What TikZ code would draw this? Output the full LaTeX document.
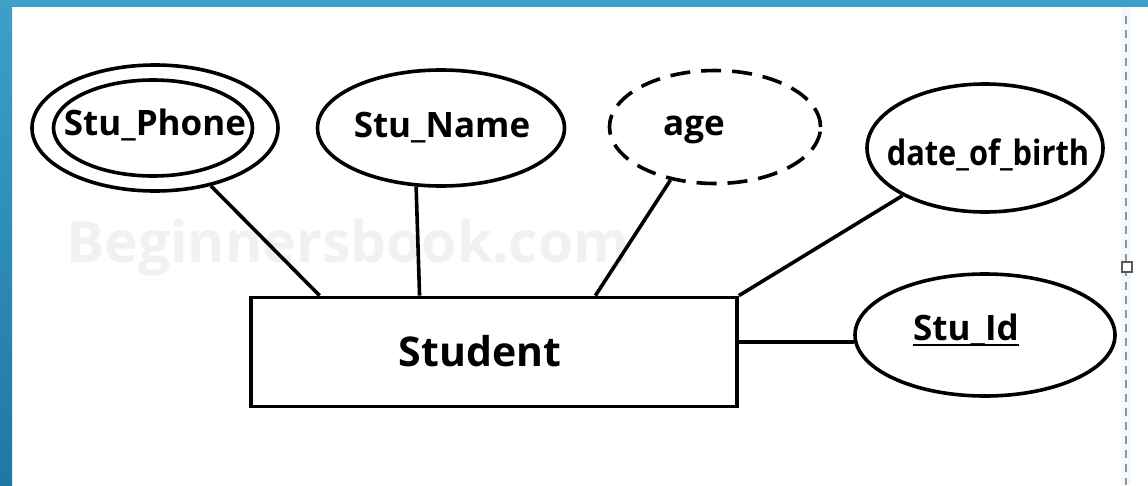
\documentclass[tikz,border=0pt]{standalone}
\usepackage{fontspec}
\usepackage{graphicx}
\setmainfont{Open Sans}
\usetikzlibrary{shapes.geometric,calc}
\definecolor{bandtop}{HTML}{3CA0C9}
\definecolor{bandbot}{HTML}{1F77A8}
\definecolor{wmark}{HTML}{F1F1F1}
\definecolor{guidebg}{HTML}{F2F8FC}
\begin{document}
\begin{tikzpicture}[x=1pt,y=-1pt,
  attr/.style={ellipse, draw=black, line width=3.6pt, inner sep=0pt, fill=white},
  lbl/.style={inner sep=0pt, anchor=base, font=\bfseries\fontsize{35}{40}\selectfont},
  conn/.style={draw=black, line width=3.6pt}]
\useasboundingbox (0,0) rectangle (1148,485);
\fill[white] (0,0) rectangle (1148,485);
% blue frame
\shade[top color=bandtop, bottom color=bandbot] (0,0) rectangle (12,485);
\fill[bandtop] (0,0) rectangle (1148,7);
% right guide line and handle
\fill[guidebg] (1121,7) rectangle (1131,485);
\draw[gray!85, line width=1.4pt, dash pattern=on 8pt off 6pt] (1126,16) -- (1126,485);
\node[draw=gray!70!black, fill=white, line width=1.5pt, minimum size=10pt, inner sep=0pt] (handle) at (1127,267) {};
% watermark
\node[inner sep=0pt, anchor=base west, text=wmark, font=\bfseries\fontsize{57}{64}\selectfont] (wm) at (66,262) {Beginnersbook.com};
% entity
\node[draw=black, line width=3.8pt, fill=white, minimum width=486pt, minimum height=109pt, inner sep=0pt] (student) at (494,352) {};
\node[lbl, font=\bfseries\fontsize{41}{46}\selectfont] (studentT) at (480,366) {Student};
% attributes
\node[attr, minimum width=246pt, minimum height=126pt] (phoneO) at (155,128) {};
\node[attr, minimum width=199pt, minimum height=96pt] (phoneI) at (153,128) {};
\node[lbl] (phoneT) at (155,135) {Stu\_Phone};
\node[attr, minimum width=247pt, minimum height=116pt] (name) at (441,128) {};
\node[lbl] (nameT) at (442,137) {Stu\_Name};
\node[attr, dash pattern=on 20pt off 11pt, minimum width=211pt, minimum height=113pt] (age) at (715,127) {};
\node[lbl] (ageT) at (694,135) {age};
\node[attr, minimum width=236pt, minimum height=128pt] (dob) at (985,148) {};
\node[lbl, font=\bfseries\fontsize{35}{40}\selectfont] (dobT) at (988,165) {\scalebox{0.88}[1]{date\_of\_birth}};
\node[attr, minimum width=260pt, minimum height=122pt] (sid) at (985,335) {};
\node[lbl] (sidT) at (966,340) {Stu\_Id};
\draw[line width=2.6pt] ($(sidT.base west)+(0,5)$) -- ($(sidT.base east)+(0,5)$);
% connectors
\draw[conn] (phoneO.-46) -- ($(student.north west)!0.144!(student.north east)$);
\draw[conn] (name.-113) -- ($(student.north west)!0.348!(student.north east)$);
\draw[conn] (age.-130) -- ($(student.north west)!0.707!(student.north east)$);
\draw[conn] (dob.-150) -- (student.north east);
\draw[conn] (sid.183) -- (student.east |- sid.183);
\end{tikzpicture}
\end{document}
